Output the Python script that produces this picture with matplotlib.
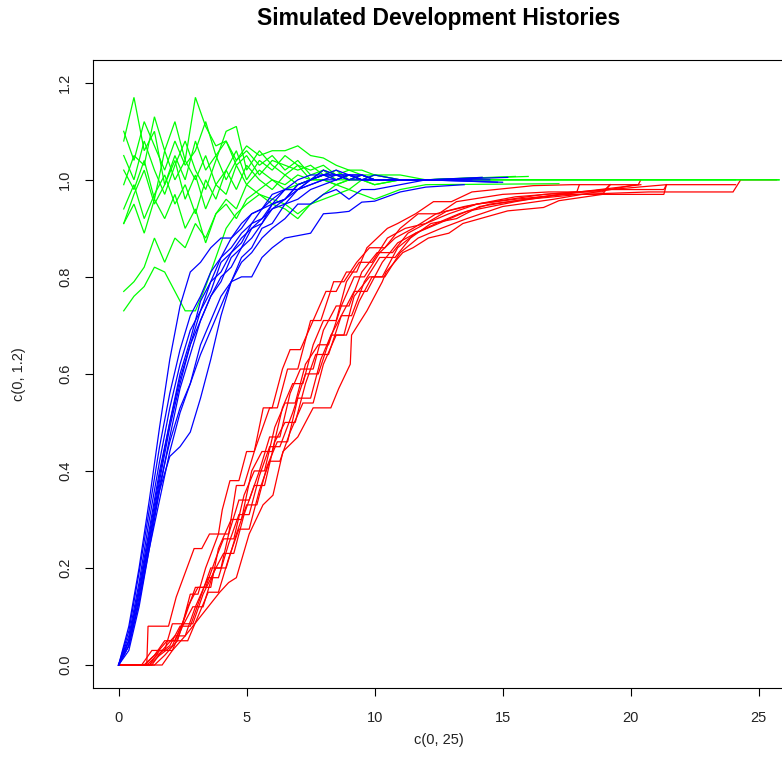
import matplotlib
matplotlib.use("Agg")
import matplotlib.pyplot as plt

# ---------------- data ----------------
title = "Simulated Development Histories"
x_label = "c(0, 25)"
y_label = "c(0, 1.2)"
x_ticks = [0, 5, 10, 15, 20, 25]
y_ticks = [0.0, 0.2, 0.4, 0.6, 0.8, 1.0, 1.2]
y_tick_labels = ["0.0", "0.2", "0.4", "0.6", "0.8", "1.0", "1.2"]

# green histories (common x grid, then a flat tail)
green_x = [0.2, 0.6, 1.0, 1.4, 1.8, 2.2, 2.6, 3.0, 3.4, 3.8, 4.2, 4.6, 5.0,
           5.5, 6.0, 6.5, 7.0, 7.5, 8.0, 8.5, 9.0, 9.5, 10.0, 11.0, 12.0]
green_1 = [1.08, 1.17, 1.06, 1.10, 0.99, 1.05, 1.00, 1.08, 1.02, 1.05, 1.00, 1.04, 1.06,
           1.03, 1.05, 1.02, 1.04, 1.01, 1.02, 1.00, 1.01, 1.00, 1.01, 1.00, 1.00]
green_2 = [1.02, 0.98, 1.04, 0.96, 1.06, 1.00, 1.04, 1.17, 1.11, 1.07, 1.08, 1.03, 1.05,
           1.01, 1.04, 1.03, 1.02, 1.03, 1.01, 1.02, 1.00, 1.01, 1.00, 1.00, 1.00]
green_3 = [0.99, 1.05, 1.03, 1.13, 1.06, 1.12, 1.04, 1.00, 1.05, 0.99, 1.02, 1.06, 1.00,
           1.04, 1.02, 1.05, 1.03, 1.02, 1.03, 1.01, 1.02, 1.01, 1.01, 1.00, 1.00]
green_4 = [1.05, 1.00, 1.08, 1.02, 0.97, 1.03, 1.08, 1.02, 0.98, 1.04, 1.10, 1.11, 1.02,
           1.06, 1.03, 1.01, 1.03, 1.00, 1.02, 1.01, 1.00, 1.01, 1.00, 1.00, 1.00]
green_5 = [0.94, 0.99, 0.92, 0.97, 1.01, 0.95, 0.99, 0.93, 1.00, 0.96, 1.02, 0.98, 1.03,
           1.00, 0.98, 1.01, 0.99, 1.00, 1.00, 0.99, 1.00, 1.00, 0.99, 1.00, 1.00]
green_6 = [0.91, 0.97, 1.02, 0.95, 0.99, 1.04, 0.96, 1.01, 0.94, 0.99, 0.97, 1.03, 0.99,
           1.02, 1.00, 0.99, 1.01, 1.00, 1.01, 1.00, 1.00, 1.01, 1.00, 1.00, 1.00]
green_7 = [0.91, 0.95, 0.89, 0.96, 0.92, 0.97, 0.90, 0.94, 0.87, 0.93, 0.96, 0.94, 0.99,
           0.97, 0.95, 0.94, 0.92, 0.95, 0.96, 0.97, 0.98, 0.97, 0.96, 0.98, 0.99]
green_8 = [0.77, 0.79, 0.82, 0.88, 0.83, 0.88, 0.86, 0.91, 0.88, 0.93, 0.95, 0.92, 0.96,
           0.98, 1.00, 0.98, 0.99, 1.00, 1.00, 0.99, 1.00, 1.00, 1.00, 1.00, 1.00]
green_9 = [0.73, 0.76, 0.78, 0.82, 0.81, 0.77, 0.73, 0.73, 0.78, 0.84, 0.90, 0.93, 0.95,
           0.97, 0.96, 0.95, 0.93, 0.95, 0.97, 0.99, 0.98, 1.00, 0.99, 1.00, 1.00]
green_10 = [1.10, 1.04, 1.12, 1.07, 1.02, 1.08, 1.03, 1.06, 1.12, 1.05, 1.08, 1.04, 1.07,
            1.05, 1.06, 1.06, 1.07, 1.05, 1.045, 1.03, 1.02, 1.02, 1.01, 1.01, 1.00]
green_series = [green_1, green_2, green_3, green_4, green_5,
                green_6, green_7, green_8, green_9, green_10]
green_tail_x = [13.0, 25.8, 14.2, 15.5, 24.1, 12.8, 17.2, 13.5, 16.0, 25.8]
green_tail_y = [1.00, 1.00, 1.005, 1.007, 1.00, 1.00, 0.992, 1.00, 1.007, 1.00]

# blue histories
blue_x = [0.0, 0.4, 0.8, 1.2, 1.6, 2.0, 2.4, 2.8, 3.2, 3.6, 4.0, 4.4, 4.8,
          5.2, 5.6, 6.0, 6.5, 7.0, 7.5, 8.0, 8.5, 9.0, 9.5, 10.0, 11.0, 12.0]
blue_1 = [0.00, 0.08, 0.20, 0.34, 0.49, 0.63, 0.74, 0.81, 0.83, 0.86, 0.88, 0.88, 0.91,
          0.93, 0.94, 0.96, 0.98, 0.98, 1.00, 1.01, 1.01, 1.00, 1.01, 1.00, 1.00, 1.00]
blue_2 = [0.00, 0.05, 0.16, 0.28, 0.40, 0.50, 0.59, 0.66, 0.73, 0.77, 0.83, 0.85, 0.88,
          0.90, 0.92, 0.95, 0.96, 0.99, 1.00, 1.01, 1.02, 1.01, 1.00, 1.01, 1.00, 1.00]
blue_3 = [0.00, 0.04, 0.14, 0.26, 0.38, 0.49, 0.58, 0.66, 0.71, 0.76, 0.79, 0.84, 0.86,
          0.90, 0.91, 0.94, 0.95, 0.98, 0.99, 1.00, 1.01, 1.01, 1.00, 1.00, 1.00, 1.00]
blue_4 = [0.00, 0.06, 0.17, 0.30, 0.42, 0.53, 0.62, 0.69, 0.73, 0.79, 0.81, 0.85, 0.87,
          0.91, 0.92, 0.94, 0.96, 0.99, 1.00, 1.02, 1.01, 1.01, 1.00, 1.00, 1.00, 1.00]
blue_5 = [0.00, 0.03, 0.12, 0.24, 0.36, 0.47, 0.57, 0.64, 0.71, 0.76, 0.80, 0.82, 0.86,
          0.88, 0.91, 0.95, 0.96, 0.98, 0.99, 1.00, 1.00, 1.01, 1.01, 1.00, 1.00, 1.00]
blue_6 = [0.00, 0.05, 0.15, 0.26, 0.36, 0.43, 0.45, 0.48, 0.55, 0.63, 0.72, 0.79, 0.80,
          0.80, 0.84, 0.86, 0.88, 0.885, 0.89, 0.93, 0.932, 0.935, 0.954, 0.956, 0.975, 0.985]
blue_7 = [0.00, 0.04, 0.13, 0.25, 0.37, 0.46, 0.53, 0.58, 0.64, 0.69, 0.74, 0.79, 0.83,
          0.85, 0.88, 0.90, 0.92, 0.95, 0.95, 0.97, 0.98, 0.96, 0.98, 0.98, 0.99, 1.00]
blue_8 = [0.00, 0.07, 0.19, 0.32, 0.45, 0.56, 0.65, 0.72, 0.76, 0.81, 0.84, 0.88, 0.90,
          0.93, 0.94, 0.97, 0.98, 1.00, 1.01, 1.01, 1.00, 1.01, 1.01, 1.00, 1.00, 1.00]
blue_9 = [0.00, 0.04, 0.13, 0.24, 0.34, 0.44, 0.52, 0.58, 0.66, 0.71, 0.76, 0.79, 0.84,
          0.86, 0.90, 0.91, 0.95, 0.96, 0.98, 0.99, 1.00, 1.01, 1.00, 1.00, 1.00, 1.00]
blue_10 = [0.00, 0.05, 0.15, 0.27, 0.39, 0.50, 0.60, 0.67, 0.75, 0.79, 0.84, 0.86, 0.89,
           0.91, 0.94, 0.95, 0.98, 0.98, 1.00, 1.01, 1.01, 1.00, 1.00, 1.00, 1.00, 1.00]
blue_series = [blue_1, blue_2, blue_3, blue_4, blue_5,
               blue_6, blue_7, blue_8, blue_9, blue_10]
blue_tail_x = [14.5, 15.2, 13.0, 14.8, 12.6, 13.5, 15.0, 12.8, 14.2, 13.8]
blue_tail_y = [1.00, 1.005, 1.00, 0.995, 1.00, 0.99, 0.995, 1.00, 1.005, 1.00]

# red histories (each with its own development times)
red_x_1 = [0, 1.10, 1.15, 1.95, 2.25, 2.95, 3.25, 3.55, 3.90, 4.05, 4.35, 4.70, 5.00, 5.30, 5.65,
           6.00, 6.40, 6.70, 7.10, 7.60, 8.10, 8.50, 8.90, 9.30, 9.70, 10.50, 10.90, 11.60,
           12.30, 13.00, 13.80, 16.20, 17.70, 20.30, 20.40]
red_y_1 = [0, 0, 0.08, 0.08, 0.14, 0.24, 0.24, 0.27, 0.27, 0.32, 0.38, 0.38, 0.44, 0.44, 0.53,
           0.53, 0.61, 0.65, 0.65, 0.71, 0.77, 0.77, 0.81, 0.81, 0.86, 0.90, 0.91, 0.93,
           0.955, 0.955, 0.975, 0.988, 0.99, 0.99, 1.0]
red_x_2 = [0, 0.90, 1.30, 1.80, 2.10, 2.50, 2.80, 3.10, 3.40, 3.90, 4.30, 4.60, 4.90, 5.30, 5.90,
           6.20, 6.60, 7.00, 7.50, 7.90, 8.40, 8.80, 9.30, 9.80, 10.40, 11.00, 11.70, 12.50,
           13.20, 15.00, 16.80, 18.90, 19.20]
red_y_2 = [0, 0, 0.03, 0.03, 0.085, 0.085, 0.146, 0.146, 0.20, 0.27, 0.27, 0.37, 0.37, 0.44, 0.53,
           0.53, 0.61, 0.61, 0.71, 0.71, 0.79, 0.79, 0.83, 0.86, 0.86, 0.90, 0.93, 0.93,
           0.955, 0.97, 0.975, 0.975, 0.99]
red_x_3 = [0, 1.00, 1.40, 1.90, 2.30, 2.70, 3.10, 3.60, 3.90, 4.40, 4.80, 5.20, 5.60, 6.00, 6.40,
           6.80, 7.20, 7.60, 8.00, 8.50, 8.90, 9.40, 9.90, 10.50, 11.20, 12.00, 12.80, 14.00,
           15.50, 17.50, 21.30, 21.40, 24.10]
red_y_3 = [0, 0, 0.02, 0.05, 0.05, 0.12, 0.16, 0.16, 0.24, 0.30, 0.30, 0.40, 0.44, 0.44, 0.53,
           0.58, 0.58, 0.66, 0.71, 0.71, 0.79, 0.83, 0.83, 0.88, 0.90, 0.91, 0.935, 0.95,
           0.96, 0.97, 0.97, 0.99, 0.99]
red_x_4 = [0, 1.20, 1.60, 2.10, 2.50, 2.90, 3.30, 3.80, 4.20, 4.60, 5.00, 5.40, 5.80, 6.20, 6.60,
           7.00, 7.50, 7.90, 8.30, 8.80, 9.20, 9.80, 10.30, 10.90, 11.60, 12.40, 13.30, 14.50,
           16.00, 18.00, 20.70, 24.00, 24.30, 25.70]
red_y_4 = [0, 0, 0.02, 0.04, 0.085, 0.085, 0.146, 0.20, 0.20, 0.27, 0.33, 0.33, 0.41, 0.46, 0.46,
           0.55, 0.55, 0.63, 0.68, 0.68, 0.76, 0.80, 0.80, 0.86, 0.89, 0.91, 0.93, 0.95,
           0.96, 0.97, 0.975, 0.975, 1.0, 1.0]
red_x_5 = [0, 1.70, 2.10, 2.60, 3.20, 3.95, 4.30, 4.60, 5.10, 5.64, 6.03, 6.29, 6.42, 7.00, 7.60,
           8.29, 8.60, 9.05, 9.10, 9.70, 10.30, 10.45, 11.10, 11.50, 12.10, 12.90, 13.45, 15.20,
           16.60, 17.20, 18.90, 19.20]
red_y_5 = [0, 0, 0.03, 0.06, 0.10, 0.15, 0.17, 0.18, 0.27, 0.33, 0.35, 0.41, 0.44, 0.47, 0.53,
           0.53, 0.57, 0.62, 0.68, 0.73, 0.79, 0.81, 0.85, 0.86, 0.88, 0.89, 0.91, 0.936,
           0.943, 0.957, 0.97, 0.99]
red_x_6 = [0, 1.30, 1.70, 2.20, 2.60, 3.00, 3.50, 3.90, 4.30, 4.70, 5.10, 5.50, 5.90, 6.30, 6.80,
           7.30, 7.80, 8.30, 8.70, 9.10, 9.60, 10.20, 10.80, 11.40, 12.20, 13.20, 14.10, 16.50,
           19.00, 21.30, 21.40]
red_y_6 = [0, 0, 0.03, 0.06, 0.06, 0.12, 0.18, 0.18, 0.25, 0.31, 0.31, 0.39, 0.45, 0.45, 0.52,
           0.60, 0.60, 0.68, 0.72, 0.72, 0.79, 0.84, 0.84, 0.88, 0.91, 0.92, 0.945, 0.965,
           0.98, 0.98, 0.99]
red_x_7 = [0, 1.00, 1.40, 1.80, 2.20, 2.60, 3.00, 3.40, 3.80, 4.10, 4.50, 4.90, 5.30, 5.70, 6.10,
           6.50, 6.90, 7.30, 7.80, 8.20, 8.70, 9.20, 9.60, 10.20, 10.80, 11.50, 12.40, 13.50,
           15.50, 17.90, 18.00]
red_y_7 = [0, 0, 0.02, 0.05, 0.05, 0.10, 0.16, 0.16, 0.22, 0.26, 0.26, 0.35, 0.40, 0.40, 0.49,
           0.54, 0.54, 0.62, 0.66, 0.66, 0.74, 0.80, 0.80, 0.85, 0.88, 0.90, 0.93, 0.945,
           0.965, 0.975, 0.99]
red_x_8 = [0, 1.10, 1.50, 2.00, 2.40, 2.80, 3.20, 3.60, 4.00, 4.30, 4.70, 5.10, 5.50, 5.90, 6.30,
           6.70, 7.10, 7.60, 8.00, 8.50, 9.00, 9.50, 10.10, 10.70, 11.30, 12.00, 12.90, 14.00,
           16.60, 19.20, 20.20]
red_y_8 = [0, 0, 0.02, 0.04, 0.08, 0.08, 0.14, 0.20, 0.20, 0.27, 0.34, 0.34, 0.40, 0.47, 0.47,
           0.56, 0.61, 0.61, 0.69, 0.74, 0.74, 0.81, 0.85, 0.85, 0.89, 0.91, 0.93, 0.95,
           0.97, 0.98, 0.99]
red_x_9 = [0, 1.20, 1.60, 2.10, 2.50, 2.90, 3.30, 3.70, 4.10, 4.50, 4.90, 5.30, 5.70, 6.10, 6.50,
           6.90, 7.30, 7.70, 8.20, 8.70, 9.20, 9.70, 10.30, 10.90, 11.60, 12.50, 13.60, 15.50,
           17.20, 20.40]
red_y_9 = [0, 0, 0.03, 0.03, 0.08, 0.12, 0.12, 0.19, 0.23, 0.23, 0.31, 0.37, 0.37, 0.46, 0.50,
           0.50, 0.58, 0.64, 0.64, 0.72, 0.77, 0.77, 0.83, 0.87, 0.89, 0.91, 0.935, 0.955,
           0.97, 0.99]
red_x_10 = [0, 1.40, 1.80, 2.30, 2.70, 3.10, 3.50, 3.90, 4.30, 4.70, 5.10, 5.50, 5.90, 6.30, 6.70,
            7.20, 7.60, 8.00, 8.50, 8.90, 9.40, 9.90, 10.40, 11.00, 11.70, 12.60, 13.60, 15.00,
            17.00, 19.20, 21.40]
red_y_10 = [0, 0, 0.02, 0.05, 0.05, 0.10, 0.15, 0.15, 0.22, 0.28, 0.28, 0.36, 0.42, 0.42, 0.48,
            0.54, 0.54, 0.62, 0.68, 0.68, 0.75, 0.80, 0.80, 0.85, 0.88, 0.90, 0.92, 0.945,
            0.96, 0.98, 0.99]
red_series = [(red_x_1, red_y_1), (red_x_2, red_y_2), (red_x_3, red_y_3), (red_x_4, red_y_4),
              (red_x_5, red_y_5), (red_x_6, red_y_6), (red_x_7, red_y_7), (red_x_8, red_y_8),
              (red_x_9, red_y_9), (red_x_10, red_y_10)]

# ---------------- figure ----------------
plt.rcParams['font.family'] = ['Liberation Sans', 'DejaVu Sans']
W, H = 782, 777
fig = plt.figure(figsize=(W / 100, H / 100), dpi=100)
left_px, right_px, top_px, bottom_px = 93.0, 784.2, 59.5, 688.3
ax = fig.add_axes([left_px / W, (H - bottom_px) / H,
                   (right_px - left_px) / W, (bottom_px - top_px) / H])

lw = 0.9
for xs, ys in red_series:
    ax.plot(xs, ys, color='#FF0000', lw=lw, solid_joinstyle='miter')
for ys, tx, ty in zip(green_series, green_tail_x, green_tail_y):
    ax.plot(green_x + [tx], ys + [ty], color='#00FF00', lw=lw, solid_joinstyle='miter')
for ys, tx, ty in zip(blue_series, blue_tail_x, blue_tail_y):
    ax.plot(blue_x + [tx], ys + [ty], color='#0000FF', lw=lw, solid_joinstyle='miter')

ax.set_xlim(-1, 26)
ax.set_ylim(-0.048, 1.248)
ax.set_xticks(x_ticks)
ax.set_xticklabels([str(t) for t in x_ticks])
ax.set_yticks(y_ticks)
ax.set_yticklabels(y_tick_labels)

for s in ['left', 'bottom', 'top', 'right']:
    ax.spines[s].set_color('black')
    ax.spines[s].set_linewidth(0.8)

ax.tick_params(axis='both', direction='out', length=6, width=0.8, colors='black',
               labelsize=10.5, labelcolor='#222222')
ax.tick_params(axis='x', pad=10)
ax.tick_params(axis='y', pad=9)
for lab in ax.get_yticklabels():
    lab.set_rotation(90)
    lab.set_va('center')
    lab.set_ha('right')

fig.text(438.6 / W, 1 - 18.5 / H, title, ha='center', va='center',
         fontsize=16.5, fontweight='bold', color='black')
fig.text(438.6 / W, 1 - 740 / H, x_label, ha='center', va='center',
         fontsize=10.5, color='#222222')
fig.text(18.5 / W, 1 - 374 / H, y_label, ha='center', va='center', rotation=90,
         fontsize=10.5, color='#222222')

fig.savefig('out.png', dpi=100)
